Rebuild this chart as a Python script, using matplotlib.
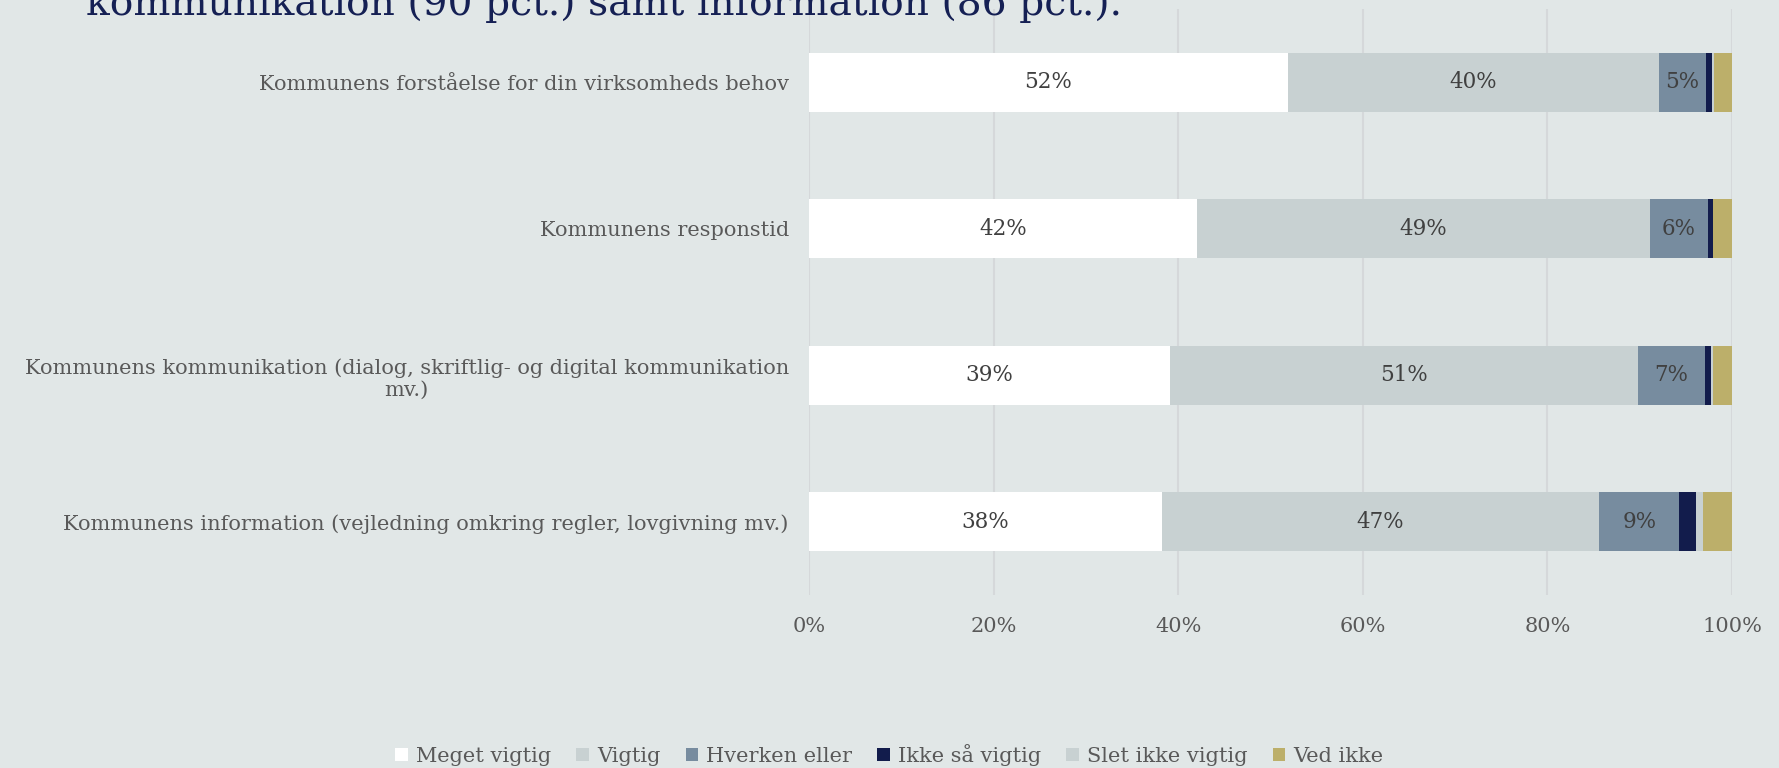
import numpy as np
import matplotlib.pyplot as plt
from matplotlib.patches import Patch

# ========== data ==========
categories = [
    "Kommunens forståelse for din virksomheds behov",
    "Kommunens responstid",
    "Kommunens kommunikation (dialog, skriftlig- og digital kommunikation\nmv.)",
    "Kommunens information (vejledning omkring regler, lovgivning mv.)",
]
series_names = ["Meget vigtig", "Vigtig", "Hverken eller", "Ikke så vigtig", "Slet ikke vigtig", "Ved ikke"]
meget_vigtig = [51.9, 42.0, 39.1, 38.2]
vigtig = [40.2, 49.1, 50.7, 47.4]
hverken_eller = [5.1, 6.3, 7.3, 8.7]
ikke_saa_vigtig = [0.6, 0.5, 0.65, 1.8]
slet_ikke_vigtig = [0.2, 0.0, 0.2, 0.8]
ved_ikke = [2.0, 2.1, 2.05, 3.1]
xticks = [0, 20, 40, 60, 80, 100]
title_line = "kommunikation (90 pct.) samt information (86 pct.)."

colors = ["#FFFFFF", "#C8D1D2", "#778C9F", "#121C4C", "#C8D1D2", "#BCAF6A"]
BG = "#E1E7E7"
TXT = "#595959"
FONT = "DejaVu Serif"

plt.rcParams["font.family"] = [FONT]

fig = plt.figure(figsize=(17.79, 7.68), dpi=100, facecolor=BG)
ax = fig.add_axes([809 / 1779, 1 - 595 / 768, (1732 - 809) / 1779, (595 - 9) / 768])
ax.set_facecolor(BG)

series = [meget_vigtig, vigtig, hverken_eller, ikke_saa_vigtig, slet_ikke_vigtig, ved_ikke]
y = np.arange(len(categories))
left = np.zeros(len(categories))
for name, vals, c in zip(series_names, series, colors):
    vals = np.array(vals, dtype=float)
    ax.barh(y, vals, left=left, height=0.4, color=c, label=name, zorder=3)
    for yi, (l, v) in enumerate(zip(left, vals)):
        if v >= 4:
            ax.text(l + v / 2, yi, f"{round(v)}%", ha="center", va="center",
                    fontsize=15.5, color="#404040", zorder=4)
    left += vals

ax.set_xlim(0, 100)
ax.set_ylim(len(categories) - 0.5, -0.5)
ax.set_xticks(xticks)
ax.set_xticklabels([f"{t}%" for t in xticks])
ax.set_yticks(y)
ax.set_yticklabels(categories, multialignment="center")
ax.tick_params(axis="x", length=0, pad=16, labelsize=15, labelcolor=TXT)
ax.tick_params(axis="y", length=0, pad=14.5, labelsize=15, labelcolor=TXT)
ax.grid(axis="x", color="#D5D8DA", lw=1.5, zorder=0)
for s in ax.spines.values():
    s.set_visible(False)

# title is cut at the top in the original screenshot
fig.text(86 / 1779, 1 - 15 / 768, title_line, fontsize=28.2, color="#152054", va="baseline", ha="left")

handles = [Patch(facecolor=c, edgecolor="none") for c in colors]
fig.legend(handles, series_names, loc="center", bbox_to_anchor=(0.5, 1 - 755 / 768), ncol=6,
           frameon=False, fontsize=15, labelcolor=TXT, handlelength=0.6, handleheight=0.6,
           handletextpad=0.4, columnspacing=1.2)

fig.savefig("out.png", dpi=100, facecolor=BG)
